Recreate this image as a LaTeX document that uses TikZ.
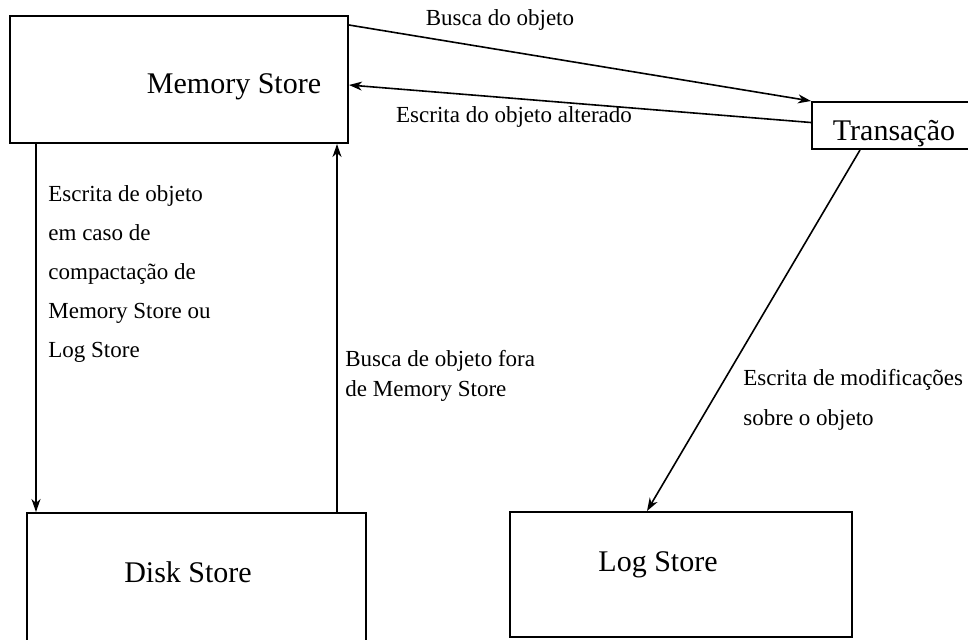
\documentclass[tikz,border=0pt]{standalone}
\usepackage{fontspec}
\setmainfont{Liberation Serif}
\usetikzlibrary{arrows.meta}
\newcommand{\boxfont}{\fontsize{15}{18}\selectfont}
\newcommand{\lblfont}{\fontsize{11.5}{19.5}\selectfont}

\tikzset{
  store/.style={draw, line width=1pt, inner sep=0pt},
  txt/.style={inner sep=0pt, font=\boxfont, anchor=base},
  lbl/.style={inner sep=0pt, font=\lblfont, align=left},
  arr/.style={line width=0.8pt, -{Stealth[length=6.5pt,width=4.5pt,inset=2pt]}}
}

\begin{document}
\begin{tikzpicture}[x=0.5pt,y=-0.5pt]
  \useasboundingbox (0,0) rectangle (968,639);
  \clip (0,0) rectangle (968,639);
  % boxes
  \node[store, minimum width=169pt, minimum height=63.5pt] (mem) at (179,79.5) {};
  \node[store, minimum width=87pt, minimum height=23.5pt] (trans) at (899,125.5) {};
  \node[store, minimum width=169.5pt, minimum height=74pt] (disk) at (196.5,587) {};
  \node[store, minimum width=171pt, minimum height=62.5pt] (log) at (681,574.5) {};
  \node[txt] (memtxt) at (234,93) {Memory Store};
  \node[txt] (transtxt) at (894,140) {Transação};
  \node[txt] (disktxt) at (188,582) {Disk Store};
  \node[txt] (logtxt) at (658,571) {Log Store};
  % connectors
  \draw[arr] ([yshift=-5pt]mem.north east) -- (trans.north west);
  \draw[arr] ([yshift=1.5pt]trans.west) -- ([yshift=-2.75pt]mem.east);
  \coordinate (down) at ([xshift=13.5pt]mem.south west);
  \draw[arr] (down) -- (down |- disk.north);
  \coordinate (up) at ([xshift=-15pt]disk.north east);
  \draw[arr] (up) -- (up |- mem.south);
  \draw[arr] ([xshift=24.5pt]trans.south west) -- ([xshift=-17pt]log.north);
  % labels
  \node[lbl, anchor=base] (busca) at (500,25) {Busca do objeto};
  \node[lbl, anchor=base] (escalt) at (514,122) {Escrita do objeto alterado};
  \node[lbl, anchor=north west] (compact) at (48,185)
    {Escrita de objeto\\em caso de\\compactação de\\Memory Store ou\\Log Store};
  \node[lbl, anchor=north west, font=\fontsize{11.5}{15}\selectfont] (fora) at (345,350)
    {Busca de objeto fora\\de Memory Store};
  \node[lbl, anchor=north west, font=\fontsize{11.5}{20}\selectfont] (modif) at (743,369)
    {Escrita de modificações\\sobre o objeto};
\end{tikzpicture}
\end{document}
